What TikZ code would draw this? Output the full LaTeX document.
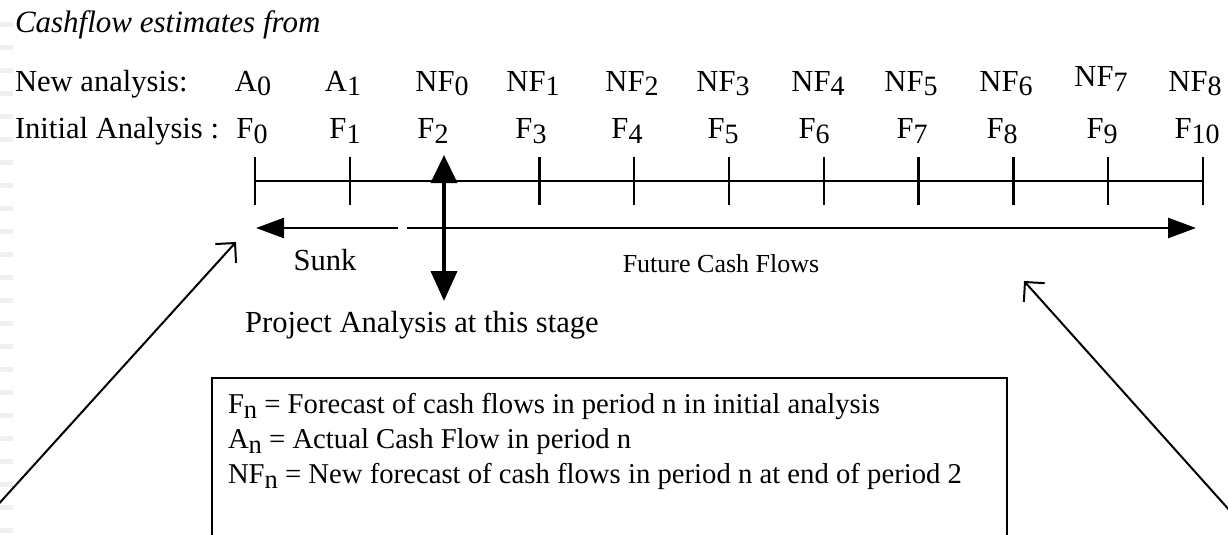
\documentclass[tikz,border=0pt]{standalone}
\usepackage{fontspec}
\setmainfont{Liberation Serif}
\usetikzlibrary{arrows.meta}
\newcommand{\sbs}[1]{\raisebox{-5pt}{\fontsize{28}{28}\selectfont #1}}
\newcommand{\sbl}[1]{\raisebox{-5pt}{\fontsize{26.5}{26.5}\selectfont #1}}
\begin{document}
\begin{tikzpicture}[x=1pt,y=-1pt,
  every node/.style={inner sep=0pt, outer sep=0pt, font=\fontsize{30.6}{35}\selectfont},
  lbl/.style={anchor=base},
  txt/.style={anchor=base west},
  legtxt/.style={anchor=base west, font=\fontsize{28.7}{33}\selectfont},
  axis/.style={line width=2.5pt},
  thinarrow/.style={line width=2.5pt, -{Triangle[length=28pt,width=20pt]}},
  pointer/.style={line width=2pt, -{Straight Barb[length=14pt,width=28pt,line width=2pt]}},
  bar/.style={fill=black!6, draw=none}]
\useasboundingbox (0,0) rectangle (1228,535);
\clip (0,0) rectangle (1228,535);
% faint slide marks on the left edge
\foreach \k in {1,...,23} \fill[bar] (0,{23*\k-1}) rectangle (13,{23*\k+4});
% titles
\node[txt, font=\fontsize{31}{35}\selectfont\itshape] (title) at (15,33) {Cashflow estimates from};
\node[txt] (newlbl) at (15,91) {New analysis:};
\node[txt] (initlbl) at (15,138) {Initial Analysis :};
% new analysis row
\node[lbl] (na0) at (253,91) {A\sbs{0}};
\node[lbl] (na1) at (343,91) {A\sbs{1}};
\node[lbl] (nf0) at (442,91) {NF\sbs{0}};
\node[lbl] (nf1) at (533,91) {NF\sbs{1}};
\node[lbl] (nf2) at (632,91) {NF\sbs{2}};
\node[lbl] (nf3) at (723,91) {NF\sbs{3}};
\node[lbl] (nf4) at (818,91) {NF\sbs{4}};
\node[lbl] (nf5) at (911,91) {NF\sbs{5}};
\node[lbl] (nf6) at (1006,91) {NF\sbs{6}};
\node[lbl] (nf7) at (1101,86) {NF\sbs{7}};
\node[lbl] (nf8) at (1195,91) {NF\sbs{8}};
% initial analysis row
\node[lbl] (f0) at (252,138) {F\sbs{0}};
\node[lbl] (f1) at (345,138) {F\sbs{1}};
\node[lbl] (f2) at (433,138) {F\sbs{2}};
\node[lbl] (f3) at (531,138) {F\sbs{3}};
\node[lbl] (f4) at (627,138) {F\sbs{4}};
\node[lbl] (f5) at (723,138) {F\sbs{5}};
\node[lbl] (f6) at (814,138) {F\sbs{6}};
\node[lbl] (f7) at (912,138) {F\sbs{7}};
\node[lbl] (f8) at (1002,138) {F\sbs{8}};
\node[lbl] (f9) at (1102,138) {F\sbs{9}};
\node[lbl] (f10) at (1197,138) {F\sbs{10}};
% timeline
\foreach \i in {0,...,10} \coordinate (t\i) at ({255+94.8*\i},181);
\draw[axis] (t0) -- (t10);
\foreach \i in {0,1,3,4,5,6,7,8,9,10} \draw[axis] ([yshift=24pt]t\i) -- ([yshift=-24pt]t\i);
% project analysis arrow
\coordinate (patop) at (444,155);
\coordinate (pabot) at (444,301);
\draw[line width=4pt, {Triangle[length=28pt,width=26pt]}-{Triangle[length=30pt,width=26pt]}] (patop) -- (pabot);
% sunk and future arrows
\coordinate (sunkstart) at (398,228);
\coordinate (sunkend) at (256,228);
\coordinate (futstart) at (407,228);
\coordinate (futend) at (1196,228);
\draw[thinarrow] (sunkstart) -- (sunkend);
\draw[thinarrow] (futstart) -- (futend);
\node[lbl] (sunk) at (325,270) {Sunk};
\node[lbl, font=\fontsize{26}{30}\selectfont] (future) at (721,272) {Future Cash Flows};
\node[lbl] (project) at (422,332) {Project Analysis at this stage};
% legend
\draw[line width=2pt] (212,560) -- (212,378) -- (1007,378) -- (1007,560);
\node[legtxt] (leg1) at (228,413) {F\sbl{n} = Forecast of cash flows in period n in initial analysis};
\node[legtxt] (leg2) at (228,448) {A\sbl{n} = Actual Cash Flow in period n};
\node[legtxt] (leg3) at (228,483) {NF\sbl{n} = New forecast of cash flows in period n at end of period 2};
% pointers
\coordinate (lstart) at (-5,508);
\coordinate (ltip) at (236,242);
\coordinate (rstart) at (1240,522);
\coordinate (rtip) at (1024,281);
\draw[pointer] (lstart) -- (ltip);
\draw[pointer] (rstart) -- (rtip);
\end{tikzpicture}
\end{document}
